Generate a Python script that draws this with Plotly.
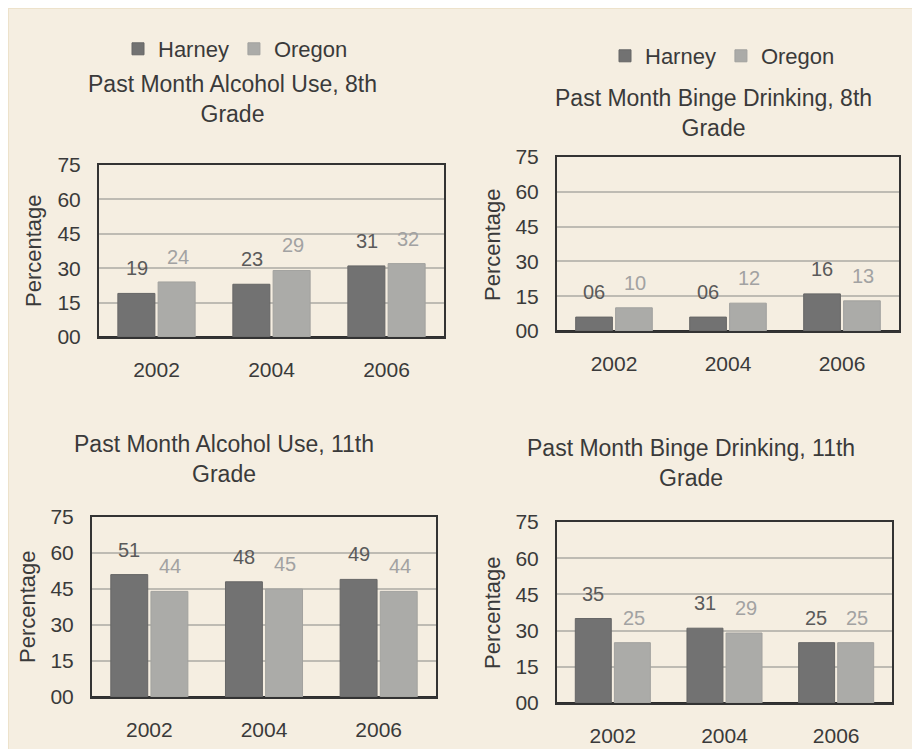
import plotly.graph_objects as go

years = ["2002", "2004", "2006"]
series_names = ["Harney", "Oregon"]

titles = [
    "Past Month Alcohol Use, 8th<br>Grade",
    "Past Month Binge Drinking, 8th<br>Grade",
    "Past Month Alcohol Use, 11th<br>Grade",
    "Past Month Binge Drinking, 11th<br>Grade",
]

alc8_harney = [19, 23, 31]
alc8_oregon = [24, 29, 32]
binge8_harney = [6, 6, 16]
binge8_oregon = [10, 12, 13]
alc11_harney = [51, 48, 49]
alc11_oregon = [44, 45, 44]
binge11_harney = [35, 31, 25]
binge11_oregon = [25, 29, 25]

panels = [
    (alc8_harney, alc8_oregon),
    (binge8_harney, binge8_oregon),
    (alc11_harney, alc11_oregon),
    (binge11_harney, binge11_oregon),
]

y_tickvals = [0, 15, 30, 45, 60, 75]
y_ticktext = ["00", "15", "30", "45", "60", "75"]

W, H = 920, 749
OFF = 8  # page body margin
BG = "#F5EEE1"
C_H = "#727272"
C_O = "#ABABA8"
L_H = "#5A5A5A"
L_O = "#A2A2A2"
TXT = "#3A3A3A"
FONT = "Liberation Sans, Arial, sans-serif"

# pixel frames in screenshot coords: (x0, x1, ytop, ybottom)
frames = [
    (99, 444, 165, 337),
    (557, 899, 157, 331),
    (92, 436, 517, 697),
    (557, 892, 522, 703),
]
title_pos = [(232, 99), (713, 113), (224, 459), (691, 463)]
ytitle_pos = [(33, 251), (492, 244), (27, 607), (492, 612)]
legend_pos = [(118, 49), (605, 56)]

def px_x(x):
    return (x - OFF) / W

def px_y(y):
    return 1 - (y - OFF) / H

fig = go.Figure()
annotations = []

for i, (harney, oregon) in enumerate(panels):
    xa = "x" if i == 0 else f"x{i+1}"
    ya = "y" if i == 0 else f"y{i+1}"
    legend_name = "legend" if i == 0 else "legend2"
    show = i < 2
    for name, vals, col, lcol in [("Harney", harney, C_H, "#666666"),
                                  ("Oregon", oregon, C_O, "#A2A29F")]:
        fig.add_trace(go.Bar(
            x=years, y=vals, name=name, xaxis=xa, yaxis=ya,
            marker=dict(color=col, line=dict(color=lcol, width=1)),
            showlegend=show, legend=legend_name,
        ))
    for vals, lc, shift in [(harney, L_H, -20), (oregon, L_O, 21)]:
        for j, v in enumerate(vals):
            annotations.append(dict(
                x=j, y=v, xref=xa, yref=ya, text=f"{v:02d}",
                showarrow=False, xshift=shift, yshift=25,
                yanchor="middle", xanchor="center",
                font=dict(size=20, color=lc, family=FONT),
            ))
    x0, x1, yt, yb = frames[i]
    axkey = "xaxis" if i == 0 else f"xaxis{i+1}"
    aykey = "yaxis" if i == 0 else f"yaxis{i+1}"
    fig.layout[axkey] = dict(
        domain=[px_x(x0), px_x(x1)], anchor=ya, type="category",
        range=[-0.5, 2.5], autorange=False, automargin=False,
        showline=True, linecolor="#333333", linewidth=2, mirror=True,
        showgrid=False, zeroline=False, ticks="", ticklabelstandoff=13,
        tickfont=dict(size=21, color=TXT, family=FONT),
        fixedrange=True,
    )
    fig.layout[aykey] = dict(
        domain=[px_y(yb), px_y(yt)], anchor=xa, range=[0, 75],
        autorange=False, automargin=False,
        tickvals=y_tickvals, ticktext=y_ticktext,
        showline=True, linecolor="#333333", linewidth=2, mirror=True,
        showgrid=True, gridcolor="#BEBBB3", gridwidth=2,
        zeroline=True, zerolinecolor="#2E2E2E", zerolinewidth=3,
        ticks="", ticklabelstandoff=12,
        tickfont=dict(size=21, color=TXT, family=FONT),
        fixedrange=True,
    )
    tx, ty = title_pos[i]
    annotations.append(dict(
        x=px_x(tx), y=px_y(ty), xref="paper", yref="paper",
        text=titles[i], showarrow=False, xanchor="center", yanchor="middle",
        font=dict(size=23, color=TXT, family=FONT),
    ))
    px_, py_ = ytitle_pos[i]
    annotations.append(dict(
        x=px_x(px_), y=px_y(py_), xref="paper", yref="paper",
        text="Percentage", showarrow=False, textangle=-90,
        xanchor="center", yanchor="middle",
        font=dict(size=22, color=TXT, family=FONT),
    ))

legend_common = dict(
    orientation="h", bgcolor="rgba(0,0,0,0)", itemwidth=30,
    font=dict(size=22, color=TXT, family=FONT),
    xanchor="left", yanchor="middle", itemclick=False, itemdoubleclick=False,
)

fig.update_layout(
    width=W, height=H,
    margin=dict(l=0, r=0, t=0, b=0, autoexpand=False),
    paper_bgcolor=BG, plot_bgcolor=BG,
    barmode="group", bargap=0.3, bargroupgap=0.08,
    annotations=annotations,
    legend=dict(x=px_x(legend_pos[0][0]), y=px_y(legend_pos[0][1]), **legend_common),
    legend2=dict(x=px_x(legend_pos[1][0]), y=px_y(legend_pos[1][1]), **legend_common),
    shapes=[dict(type="rect", xref="paper", yref="paper",
                 x0=0, x1=1.0, y0=0, y1=1.0,
                 line=dict(color="#EDE2CB", width=2), layer="below")],
    font=dict(family=FONT),
)

fig.write_html("out.html")
